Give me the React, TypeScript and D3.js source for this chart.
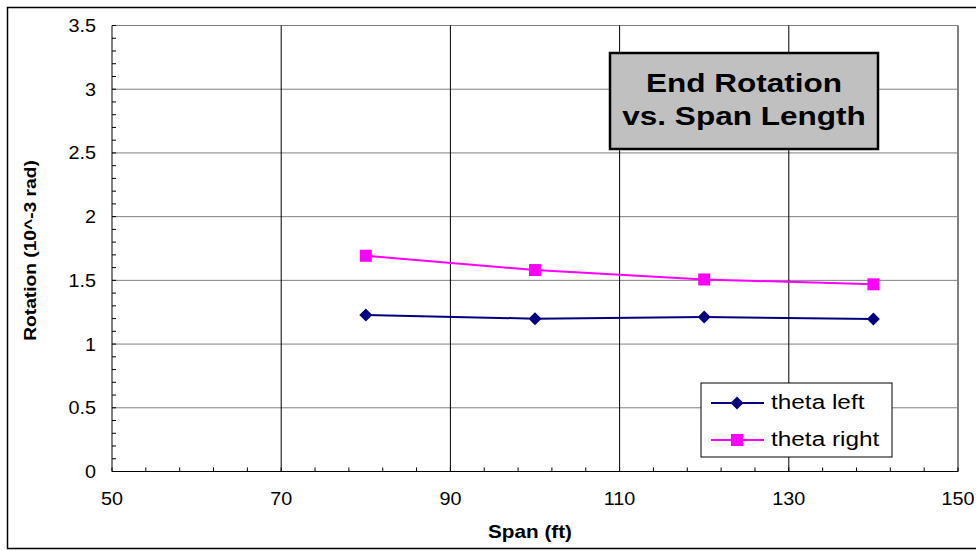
import React from "react";
import * as d3 from "d3";

const spans = [80, 100, 120, 140];
const thetaLeft = [1.228, 1.199, 1.212, 1.197];
const thetaRight = [1.693, 1.581, 1.507, 1.469];
const xTicks = [50, 70, 90, 110, 130, 150];
const yTicks = [0, 0.5, 1, 1.5, 2, 2.5, 3, 3.5];
const seriesNames = ["theta left", "theta right"];
const titleLines = ["End Rotation", "vs. Span Length"];

const W = 976, H = 551;
const L = 112, R = 958, T = 25.5, B = 471.5;
const FONT = "'Liberation Sans', Arial, sans-serif";

function SText(props: { x: number; y: number; sx?: number; anchor?: string; size: number; bold?: boolean; rotate?: number; children: any }) {
  const { x, y, sx = 1.12, anchor = "start", size, bold, rotate = 0, children } = props;
  return (
    <text
      transform={`translate(${x},${y}) rotate(${rotate}) scale(${sx},1)`}
      textAnchor={anchor}
      fontSize={size}
      fontWeight={bold ? "bold" : "normal"}
    >
      {children}
    </text>
  );
}

export default function App() {
  const x = d3.scaleLinear().domain([50, 150]).range([L, R]);
  const y = d3.scaleLinear().domain([0, 3.5]).range([B, T]);
  const line = d3.line<[number, number]>().x(d => x(d[0])).y(d => y(d[1]));
  const leftPts = spans.map((s, i) => [s, thetaLeft[i]] as [number, number]);
  const rightPts = spans.map((s, i) => [s, thetaRight[i]] as [number, number]);
  const xMinor = d3.range(50, 150.01, 4);
  const yMinor = d3.range(0, 3.501, 0.1);
  const diamond = (cx: number, cy: number, r = 6.5) =>
    `M${cx},${cy - r}L${cx + r},${cy}L${cx},${cy + r}L${cx - r},${cy}Z`;

  return (
    <svg width={W} height={H} style={{ position: "absolute", left: 0, top: 0, background: "#fff" }} fontFamily={FONT}>
      <rect x={0} y={0} width={W} height={H} fill="#fff" />
      <rect x={7.5} y={7.5} width={980} height={541} fill="none" stroke="#000" strokeWidth={1.5} />
      {yTicks.slice(1).map(t => (
        <line key={"hg" + t} x1={L} x2={R} y1={y(t)} y2={y(t)} stroke="#808080" strokeWidth={1} />
      ))}
      {xTicks.slice(1, -1).map(t => (
        <line key={"vg" + t} x1={x(t)} x2={x(t)} y1={T} y2={B} stroke="#000" strokeWidth={1} />
      ))}
      <line x1={R} x2={R} y1={T} y2={B} stroke="#808080" strokeWidth={2} />
      <line x1={L} x2={L} y1={T} y2={B} stroke="#000" strokeWidth={1} />
      <line x1={L} x2={R} y1={B} y2={B} stroke="#000" strokeWidth={1} />
      {xMinor.map(t => (
        <line key={"xm" + t} x1={x(t)} x2={x(t)} y1={B} y2={B - 4} stroke="#000" strokeWidth={1} />
      ))}
      {yMinor.map(t => (
        <line key={"ym" + t} x1={L} x2={L + 4} y1={y(t)} y2={y(t)} stroke="#000" strokeWidth={1} />
      ))}
      {xTicks.map(t => (
        <SText key={"xl" + t} x={x(t)} y={505} anchor="middle" size={18} sx={1.1}>{t}</SText>
      ))}
      {yTicks.map(t => (
        <SText key={"yl" + t} x={96} y={y(t) + 6.5} anchor="end" size={18} sx={1.1}>{t}</SText>
      ))}
      <SText x={530} y={538} anchor="middle" size={18} bold sx={1.15}>Span (ft)</SText>
      <SText x={36} y={250.5} anchor="middle" size={16} bold sx={1.2} rotate={-90}>Rotation (10^-3 rad)</SText>
      <path d={line(leftPts) || ""} fill="none" stroke="#000080" strokeWidth={2} />
      {leftPts.map((p, i) => (
        <path key={"dl" + i} d={diamond(x(p[0]), y(p[1]))} fill="#000080" />
      ))}
      <path d={line(rightPts) || ""} fill="none" stroke="#ff00ff" strokeWidth={2} />
      {rightPts.map((p, i) => (
        <rect key={"dr" + i} x={x(p[0]) - 6} y={y(p[1]) - 6} width={12} height={12} fill="#ff00ff" />
      ))}
      <rect x={610} y={53} width={268} height={96} fill="#c0c0c0" stroke="#000" strokeWidth={2.5} />
      <SText x={744} y={92} anchor="middle" size={26.5} bold sx={1.19}>{titleLines[0]}</SText>
      <SText x={744} y={125} anchor="middle" size={26.5} bold sx={1.19}>{titleLines[1]}</SText>
      <rect x={701} y={383} width={191} height={74} fill="#fff" stroke="#000" strokeWidth={1} />
      <line x1={711} x2={764} y1={403} y2={403} stroke="#000080" strokeWidth={2} />
      <path d={diamond(737, 403)} fill="#000080" />
      <SText x={771} y={409} size={19.5} sx={1.25}>{seriesNames[0]}</SText>
      <line x1={711} x2={764} y1={440} y2={440} stroke="#ff00ff" strokeWidth={2} />
      <rect x={731} y={434} width={12} height={12} fill="#ff00ff" />
      <SText x={771} y={446} size={19.5} sx={1.25}>{seriesNames[1]}</SText>
    </svg>
  );
}
